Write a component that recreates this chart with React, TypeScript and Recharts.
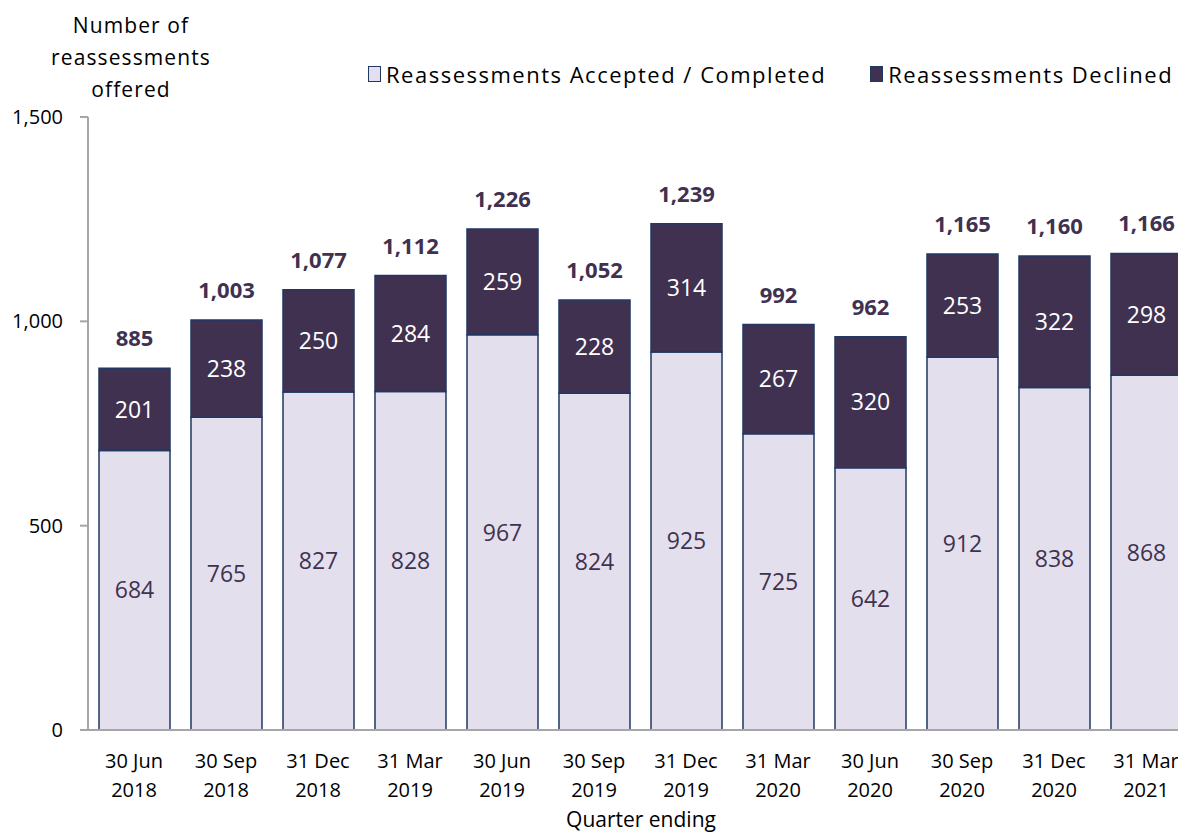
import React from 'react';
import {
  BarChart, Bar, XAxis, YAxis, LabelList,
} from 'recharts';

const quarters = [
  '30 Jun 2018', '30 Sep 2018', '31 Dec 2018', '31 Mar 2019',
  '30 Jun 2019', '30 Sep 2019', '31 Dec 2019', '31 Mar 2020',
  '30 Jun 2020', '30 Sep 2020', '31 Dec 2020', '31 Mar 2021',
];
const accepted = [684, 765, 827, 828, 967, 824, 925, 725, 642, 912, 838, 868];
const declined = [201, 238, 250, 284, 259, 228, 314, 267, 320, 253, 322, 298];
const yTicks = [0, 500, 1000, 1500];

const FONT = '"Open Sans", sans-serif';
const LIGHT = '#E4DFEC';
const DARK = '#403151';
const EDGE = '#1F3864';
const AXIS = '#A6A6A6';

const chartData = quarters.map((q, i) => ({
  quarter: q,
  accepted: accepted[i],
  declined: declined[i],
  total: accepted[i] + declined[i],
}));

const fmt = (v: number) => v.toLocaleString('en-GB');

// two-line category label: "30 Jun" / "2018"
const QuarterTick = ({ x, y, payload }: any) => {
  const parts = String(payload.value).split(' ');
  const year = parts.pop();
  return (
    <g>
      <text x={x} y={y + 38} textAnchor="middle" fontFamily={FONT} fontSize={20} fill="#000">
        {parts.join(' ')}
      </text>
      <text x={x} y={y + 67} textAnchor="middle" fontFamily={FONT} fontSize={20} fill="#000">
        {year}
      </text>
    </g>
  );
};

// legend drawn as a plain overlay so it doesn't eat into the plot margins
const LegendBox = () => (
  <div style={{
    position: 'absolute', top: 59, left: 368, display: 'flex',
    fontFamily: FONT, fontSize: 22, letterSpacing: 1.5, color: '#000', whiteSpace: 'nowrap',
  }}>
    <span style={{ display: 'flex', alignItems: 'center', marginRight: 44 }}>
      <span style={{ width: 11, height: 14, background: LIGHT, border: `1.5px solid ${EDGE}`, marginRight: 5 }} />
      Reassessments Accepted / Completed
    </span>
    <span style={{ display: 'flex', alignItems: 'center' }}>
      <span style={{ width: 11, height: 14, background: DARK, border: `1.5px solid ${EDGE}`, marginRight: 5 }} />
      Reassessments Declined
    </span>
  </div>
);

export default function App() {
  return (
    <div style={{ position: 'fixed', top: 0, left: 0, width: 1178, height: 834, overflow: 'hidden', background: '#fff' }}>
      <BarChart
        width={1192}
        height={834}
        data={chartData}
        margin={{ top: 117, right: 0, left: 0, bottom: 74 }}
      >
        <XAxis
          dataKey="quarter"
          height={30}
          axisLine={{ stroke: AXIS, strokeWidth: 2 }}
          tickLine={false}
          tickSize={0}
          tickMargin={0}
          interval={0}
          tick={<QuarterTick />}
          label={{
            content: () => (
              <text x={641} y={827} textAnchor="middle" fontFamily={FONT} fontSize={21} fill="#000">
                Quarter ending
              </text>
            ),
          }}
        />
        <YAxis
          width={88}
          domain={[0, 1500]}
          ticks={yTicks}
          interval={0}
          tickFormatter={fmt}
          axisLine={{ stroke: AXIS, strokeWidth: 2 }}
          tickLine={{ stroke: AXIS, strokeWidth: 2 }}
          tickSize={8}
          tickMargin={17}
          tick={{ fontFamily: FONT, fontSize: 20, fill: '#000' }}
          label={{
            content: () => (
              <text textAnchor="middle" fontFamily={FONT} fontSize={21} letterSpacing={1.1} fill="#000">
                <tspan x={131} y={33}>Number of</tspan>
                <tspan x={131} y={65}>reassessments</tspan>
                <tspan x={131} y={97}>offered</tspan>
              </text>
            ),
          }}
        />
        <Bar
          dataKey="accepted"
          name="Reassessments Accepted / Completed"
          stackId="q"
          barSize={71}
          fill={LIGHT}
          stroke={EDGE}
          strokeWidth={1.5}
          isAnimationActive={false}
        >
          <LabelList dataKey="accepted" position="center" fill={DARK} fontFamily={FONT} fontSize={23} />
        </Bar>
        <Bar
          dataKey="declined"
          name="Reassessments Declined"
          stackId="q"
          barSize={71}
          fill={DARK}
          stroke={EDGE}
          strokeWidth={1.5}
          isAnimationActive={false}
        >
          <LabelList dataKey="declined" position="center" fill="#fff" fontFamily={FONT} fontSize={23} />
          <LabelList
            dataKey="total"
            position="top"
            offset={22}
            formatter={(v: any) => fmt(Number(v))}
            fill={DARK}
            fontFamily={FONT}
            fontSize={22}
            fontWeight="bold"
          />
        </Bar>
      </BarChart>
      <LegendBox />
    </div>
  );
}
